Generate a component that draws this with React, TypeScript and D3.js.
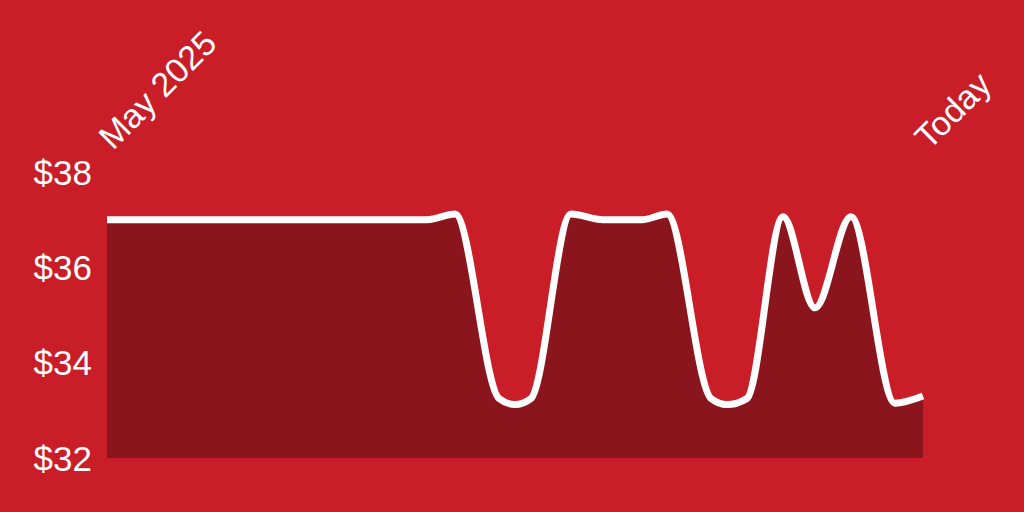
import { useEffect, useRef } from 'react';
import * as d3 from 'd3';

// days since the start of May 2025 and the closing price on that day
const days = [0, 80, 87, 98, 102, 106, 116, 124, 134, 140, 151, 155, 160, 169, 177, 186, 197, 204];
const prices = [
  37.0, 37.0, 37.12, 33.25, 33.12, 33.25, 37.12, 37.0, 37.0, 37.12, 33.25, 33.12, 33.25, 37.06,
  35.15, 37.06, 33.15, 33.3,
];
const priceTicks = [32, 34, 36, 38];
const startLabel = 'May 2025';
const endLabel = 'Today';

export default function App() {
  const svgRef = useRef<SVGSVGElement>(null);
  const width = 1024;
  const height = 512;

  useEffect(() => {
    if (!svgRef.current) return;
    document.body.style.margin = '0';

    const svg = d3.select(svgRef.current);
    svg.selectAll('*').remove();

    const margin = { top: 172, right: 101, bottom: 54, left: 107 };

    const x = d3
      .scaleLinear()
      .domain([days[0], days[days.length - 1]])
      .range([margin.left, width - margin.right]);

    const y = d3
      .scaleLinear()
      .domain([32, 38])
      .range([height - margin.bottom, margin.top]);

    const points = days.map((d, i) => ({ day: d, price: prices[i] }));

    svg.append('rect').attr('width', width).attr('height', height).attr('fill', '#c91d27');

    // Filled area under the price
    const area = d3
      .area<{ day: number; price: number }>()
      .x((d) => x(d.day))
      .y0(y(32))
      .y1((d) => y(d.price))
      .curve(d3.curveMonotoneX);

    svg.append('path').datum(points).attr('fill', '#8b151c').attr('d', area);

    const line = d3
      .line<{ day: number; price: number }>()
      .x((d) => x(d.day))
      .y((d) => y(d.price))
      .curve(d3.curveMonotoneX);

    svg
      .append('path')
      .datum(points)
      .attr('fill', 'none')
      .attr('stroke', '#ffffff')
      .attr('stroke-width', 7)
      .attr('stroke-linejoin', 'round')
      .attr('d', line);

    // Y axis labels
    const yAxis = svg
      .append('g')
      .attr('transform', `translate(${margin.left - 15}, 1)`)
      .call(
        d3
          .axisLeft(y)
          .tickValues(priceTicks)
          .tickSize(0)
          .tickPadding(0)
          .tickFormat((d) => `$${d}`)
      );
    yAxis.select('.domain').remove();
    yAxis
      .selectAll('text')
      .attr('fill', '#ffffff')
      .style('font-family', '"Liberation Sans", Arial, sans-serif')
      .style('font-size', '35px');

    // Rotated date labels
    const dateLabels = [
      { day: days[0], text: startLabel },
      { day: days[days.length - 1], text: endLabel },
    ];
    svg
      .selectAll('.date-label')
      .data(dateLabels)
      .join('text')
      .attr('class', 'date-label')
      .attr('transform', (d) => `translate(${x(d.day) + 6}, 151) rotate(-45)`)
      .attr('fill', '#ffffff')
      .style('font-family', '"Liberation Sans", Arial, sans-serif')
      .style('font-size', '34px')
      .text((d) => d.text);
  }, []);

  return (
    <div style={{ position: 'fixed', left: 0, top: 0 }}>
      <svg ref={svgRef} width={width} height={height} style={{ display: 'block' }} />
    </div>
  );
}
